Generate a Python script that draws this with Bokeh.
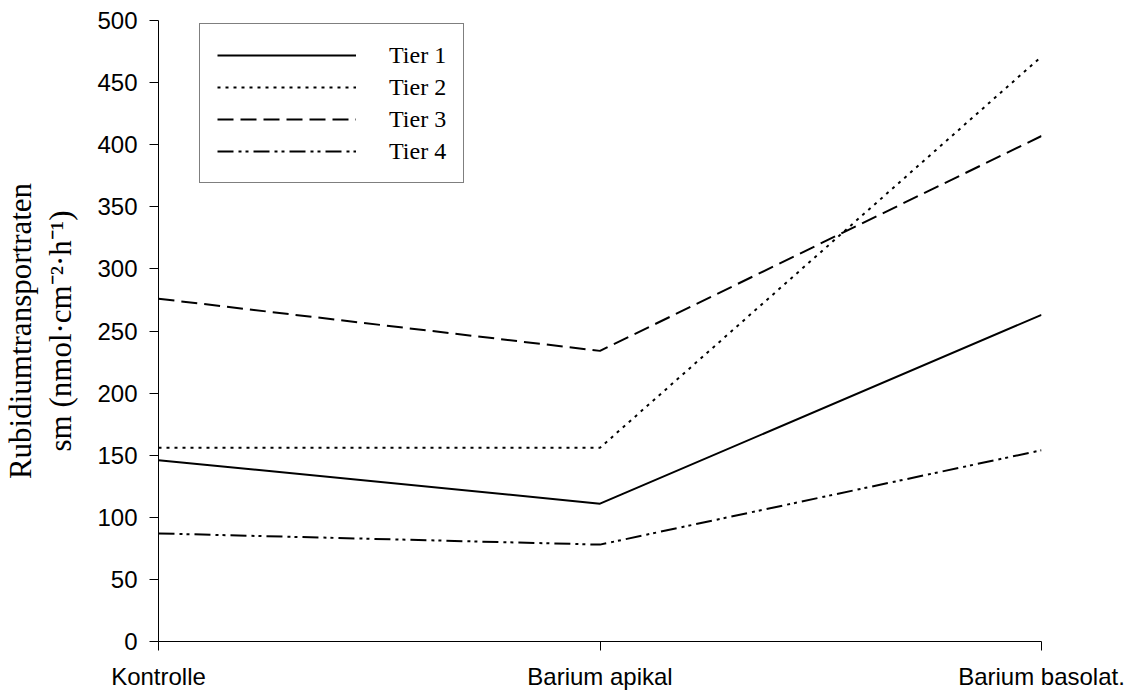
from bokeh.plotting import figure
from bokeh.models import Range1d, FixedTicker, Legend, LegendItem
from bokeh.embed import file_html
from bokeh.resources import INLINE

categories = ["Kontrolle", "Barium apikal", "Barium basolat."]
series_names = ["Tier 1", "Tier 2", "Tier 3", "Tier 4"]
tier1 = [146, 111, 263]
tier2 = [156, 156, 471]
tier3 = [276, 234, 407]
tier4 = [87, 78, 154]
y_ticks = [0, 50, 100, 150, 200, 250, 300, 350, 400, 450, 500]

xs = list(range(len(categories)))

p = figure(width=1134, height=692, output_backend="svg", toolbar_location=None,
           x_range=Range1d(0, 2), y_range=Range1d(0, 500),
           min_border_left=158, min_border_right=93, min_border_top=20, min_border_bottom=51)
p.outline_line_color = None
p.xgrid.grid_line_color = None
p.ygrid.grid_line_color = None

dashes = ["solid", "3 5", "16 7", "16 5 3 4 3 5"]
items = []
for name, vals, dash in zip(series_names, [tier1, tier2, tier3, tier4], dashes):
    r = p.line(xs, vals, line_color="black", line_width=2, line_dash=dash)
    items.append(LegendItem(label=name, renderers=[r]))

p.xaxis.ticker = FixedTicker(ticks=xs)
p.xaxis.major_label_overrides = {i: c for i, c in enumerate(categories)}
p.yaxis.ticker = FixedTicker(ticks=y_ticks)
for ax in (p.xaxis[0], p.yaxis[0]):
    ax.axis_line_color = "black"
    ax.axis_line_width = 1
    ax.major_tick_line_color = "black"
    ax.major_tick_in = 0
    ax.major_tick_out = 9
    ax.minor_tick_line_color = None
    ax.major_label_text_font = "Liberation Sans"
    ax.major_label_text_font_size = "24px"
    ax.major_label_text_color = "black"
    ax.major_label_standoff = 12

p.yaxis.axis_label = "Rubidiumtransportraten\nsm (nmol·cm⁻²·h⁻¹)"
p.yaxis.axis_label_text_font = "Liberation Serif"
p.yaxis.axis_label_text_font_style = "normal"
p.yaxis.axis_label_text_font_size = "31px"
p.yaxis.axis_label_text_line_height = 1.15
p.yaxis.axis_label_text_color = "black"
p.yaxis.axis_label_standoff = 16

legend = Legend(items=items, location=(41, 458), margin=0, padding=17,
                spacing=4, glyph_width=139, glyph_height=28, label_height=28,
                label_width=57, label_standoff=33,
                label_text_font="Liberation Serif", label_text_font_size="24px",
                label_text_color="black",
                border_line_color="black", border_line_width=1,
                background_fill_color="white", background_fill_alpha=1)
p.add_layout(legend)

open("out.html", "w").write(file_html(p, INLINE))
